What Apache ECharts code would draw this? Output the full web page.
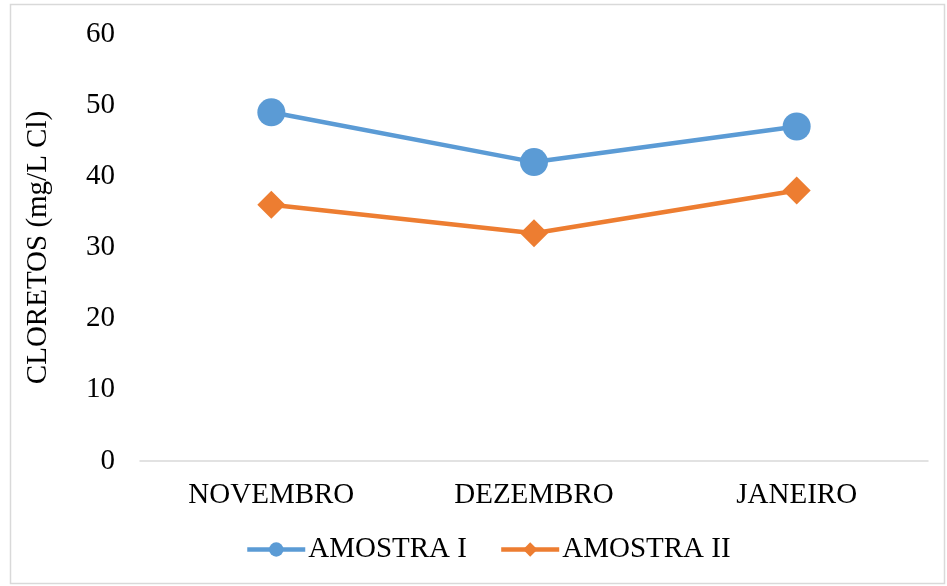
<!DOCTYPE html>
<html><head><meta charset="utf-8">
<script src="https://cdn.jsdelivr.net/npm/echarts@6/dist/echarts.min.js"></script>
<style>html,body{margin:0;padding:0;background:#fff}#c{width:947px;height:586px}</style>
</head><body><div id="c"></div>
<script>
const categories = ['NOVEMBRO', 'DEZEMBRO', 'JANEIRO'];
const amostraI = [49, 42, 47];
const amostraII = [36, 32, 38];
const yName = 'CLORETOS (mg/L Cl)';
const font = '"Liberation Serif", "Times New Roman", serif';
const chart = echarts.init(document.getElementById('c'));
chart.setOption({
  animation: false,
  graphic: [{type:'rect', shape:{x:10.5,y:4.5,width:934,height:579}, style:{fill:'none', stroke:'#D9D9D9', lineWidth:1.5}, silent:true}],
  grid: {left:140, right:19, top:34, bottom:125},
  legend: {
    bottom: 17, left: 240, itemGap: 32, itemWidth: 58, itemHeight: 18,
    lineStyle: {width: 4.5},
    textStyle: {fontFamily: font, fontSize: 29, color: '#000', padding: [0,0,0,-2]},
    data: ['AMOSTRA I', 'AMOSTRA II']
  },
  xAxis: {
    type: 'category', data: categories,
    axisLine: {lineStyle: {color: '#D9D9D9', width: 1.5}},
    axisTick: {show: false},
    axisLabel: {fontFamily: font, fontSize: 29, color: '#000', margin: 20}
  },
  yAxis: {
    type: 'value', min: 0, max: 60, interval: 10,
    name: yName, nameLocation: 'middle', nameGap: 87,
    nameTextStyle: {fontFamily: font, fontSize: 29, color: '#000'},
    axisLine: {show: false}, axisTick: {show: false},
    splitLine: {show: false},
    axisLabel: {fontFamily: font, fontSize: 29, color: '#000', margin: 25}
  },
  series: [
    {name:'AMOSTRA I', type:'line', data: amostraI, symbol:'circle', symbolSize: 28,
     lineStyle:{color:'#5B9BD5', width:4.5}, itemStyle:{color:'#5B9BD5'}},
    {name:'AMOSTRA II', type:'line', data: amostraII, symbol:'diamond', symbolSize: 28,
     lineStyle:{color:'#ED7D31', width:4.5}, itemStyle:{color:'#ED7D31'}}
  ]
});
</script></body></html>
